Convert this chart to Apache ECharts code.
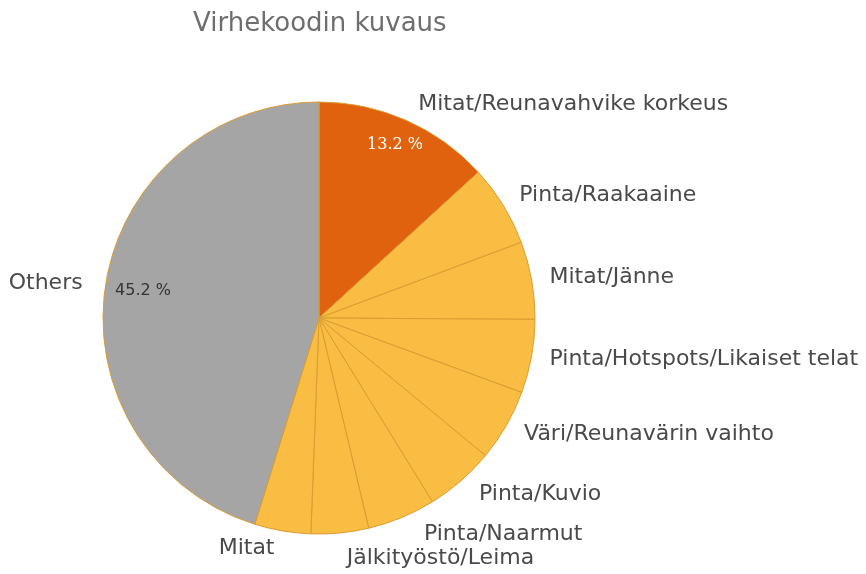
<!DOCTYPE html>
<html>
<head>
<meta charset="utf-8">
<script src="https://cdn.jsdelivr.net/npm/echarts@6/dist/echarts.min.js"></script>
<style>html,body{margin:0;padding:0;background:#fff}#c{width:866px;height:574px}</style>
</head>
<body>
<div id="c"></div>
<script>
const categories = ["Mitat/Reunavahvike korkeus","Pinta/Raakaaine","Mitat/Jänne","Pinta/Hotspots/Likaiset telat","Väri/Reunavärin vaihto","Pinta/Kuvio","Pinta/Naarmut","Jälkityöstö/Leima","Mitat","Others"];
const values = [13.2, 6.1, 5.8, 5.5, 5.4, 5.2, 5.1, 4.3, 4.2, 45.2];
const colors = ["#e0620e","#f8bd42","#f8bd42","#f8bd42","#f8bd42","#f8bd42","#f8bd42","#f8bd42","#f8bd42","#a5a5a5"];

const FONT = "'DejaVu Sans', sans-serif";
const center = [319, 318];
const R = 216;
const data = categories.map((n, i) => ({ name: n, value: values[i], itemStyle: { color: colors[i] } }));

const chart = echarts.init(document.getElementById('c'), null, { renderer: 'canvas' });
chart.setOption({
  animation: false,
  title: {
    text: 'Virhekoodin kuvaus', left: 188, top: 6,
    textStyle: { fontFamily: FONT, fontSize: 26, fontWeight: 'normal', color: '#6e6e6e' }
  },
  series: [
    {
      type: 'pie', center: center, radius: [0, R], startAngle: 90, clockwise: true,
      data: data, silent: true,
      itemStyle: { borderColor: '#d99c30', borderWidth: 1 },
      label: { show: true, position: 'outside', fontFamily: FONT, fontSize: 22, color: '#4a4a4a', formatter: '{b}',
        overflow: 'none', edgeDistance: 0 },
      labelLine: { show: false, length: 18, length2: 0 },
      emphasis: { disabled: true }
    },
    {
      type: 'pie', center: center, radius: [R * 0.72, R], startAngle: 90, clockwise: true,
      data: data.map(d => ({ name: d.name, value: d.value, itemStyle: { color: 'transparent' } })),
      silent: true,
      label: { show: true, position: 'inside', fontFamily: "'DejaVu Serif', serif", fontSize: 16, color: '#ffffff',
        formatter: p => p.dataIndex === 0 ? values[0].toFixed(1) + ' %' : '' },
      labelLine: { show: false },
      emphasis: { disabled: true }
    },
    {
      type: 'pie', center: center, radius: [R * 0.62, R], startAngle: 90, clockwise: true,
      data: data.map(d => ({ name: d.name, value: d.value, itemStyle: { color: 'transparent' } })),
      silent: true,
      label: { show: true, position: 'inside', fontFamily: FONT, fontSize: 16, color: '#333333',
        formatter: p => p.dataIndex === 9 ? values[9].toFixed(1) + ' %' : '' },
      labelLine: { show: false },
      emphasis: { disabled: true }
    }
  ]
});
</script>
</body>
</html>
